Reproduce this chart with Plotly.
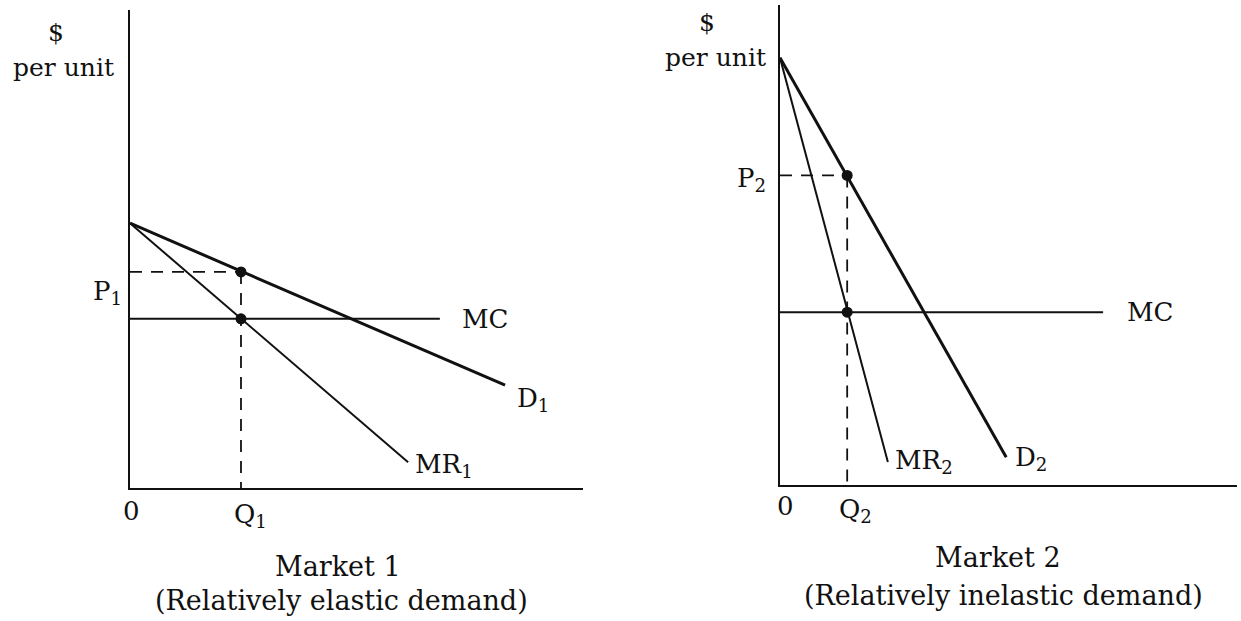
import plotly.graph_objects as go

W, H = 1241, 621

# ---- Market 1 (relatively elastic demand) ----
m1_demand_q = [0, 82.8]
m1_demand_p = [55.4, 21.5]
m1_mr_q = [0, 61.4]
m1_mr_p = [55.4, 5.4]
m1_mc_q = [0, 68.4]
m1_mc = 35.4
m1_q = 24.5
m1_p = 45.2

# ---- Market 2 (relatively inelastic demand) ----
m2_demand_q = [0, 49.5]
m2_demand_p = [89.0, 5.8]
m2_mr_q = [0, 23.6]
m2_mr_p = [89.0, 4.8]
m2_mc_q = [0, 70.7]
m2_mc = 36.0
m2_q = 14.7
m2_p = 64.5

FONT = "DejaVu Serif"
FS = 26
BLACK = "#111111"


def px(x, y):
    """Pixel position -> paper coordinates."""
    return x / W, 1 - y / H


fig = go.Figure()


def add_market(xa, ya, dq, dp, mq, mp, cq, mc, q, p):
    fig.add_trace(go.Scatter(x=dq, y=dp, xaxis=xa, yaxis=ya, mode="lines",
                             line=dict(color=BLACK, width=3), hoverinfo="skip"))
    fig.add_trace(go.Scatter(x=mq, y=mp, xaxis=xa, yaxis=ya, mode="lines",
                             line=dict(color=BLACK, width=2), hoverinfo="skip"))
    fig.add_trace(go.Scatter(x=cq, y=[mc, mc], xaxis=xa, yaxis=ya, mode="lines",
                             line=dict(color=BLACK, width=2), hoverinfo="skip"))
    # dashed guides to the axes
    fig.add_trace(go.Scatter(x=[0, q], y=[p, p], xaxis=xa, yaxis=ya, mode="lines",
                             line=dict(color=BLACK, width=1.8, dash="12px,9px"),
                             hoverinfo="skip"))
    fig.add_trace(go.Scatter(x=[q, q], y=[p, 0], xaxis=xa, yaxis=ya, mode="lines",
                             line=dict(color=BLACK, width=1.8, dash="12px,9px"),
                             hoverinfo="skip"))
    # price point on demand, MR = MC point
    fig.add_trace(go.Scatter(x=[q, q], y=[p, mc], xaxis=xa, yaxis=ya, mode="markers",
                             marker=dict(color=BLACK, size=11), hoverinfo="skip"))


add_market("x", "y", m1_demand_q, m1_demand_p, m1_mr_q, m1_mr_p,
           m1_mc_q, m1_mc, m1_q, m1_p)
add_market("x2", "y2", m2_demand_q, m2_demand_p, m2_mr_q, m2_mr_p,
           m2_mc_q, m2_mc, m2_q, m2_p)

ax_common = dict(showline=True, linecolor=BLACK, linewidth=2, showgrid=False,
                 zeroline=False, showticklabels=False, ticks="", fixedrange=True)

fig.update_layout(
    width=W, height=H,
    margin=dict(l=0, r=0, t=0, b=0),
    paper_bgcolor="white", plot_bgcolor="white",
    showlegend=False,
    font=dict(family=FONT, size=FS, color=BLACK),
    xaxis=dict(domain=[130 / W, 583 / W], range=[0, 100], anchor="y", **ax_common),
    yaxis=dict(domain=[1 - 488 / H, 1 - 10 / H], range=[0, 100], anchor="x", **ax_common),
    xaxis2=dict(domain=[780 / W, 1237 / W], range=[0, 100], anchor="y2", **ax_common),
    yaxis2=dict(domain=[1 - 485 / H, 1 - 5 / H], range=[0, 100], anchor="x2", **ax_common),
)

ann = []


def label(text, x, y, xref, yref, xanchor="center", yanchor="middle", size=FS):
    ann.append(dict(text=text, x=x, y=y, xref=xref, yref=yref, showarrow=False,
                    xanchor=xanchor, yanchor=yanchor,
                    font=dict(family=FONT, size=size, color=BLACK)))


def plabel(text, cx, cy, xanchor="center", size=FS):
    x, y = px(cx, cy)
    label(text, x, y, "paper", "paper", xanchor=xanchor, size=size)


# Market 1 curve labels
label("MC", 72.8, m1_mc, "x", "y", xanchor="left")
label("D<sub>1</sub>", 85.0, 18.5, "x", "y", xanchor="left")
label("MR<sub>1</sub>", 62.5, 4.8, "x", "y", xanchor="left")
# Market 2 curve labels
label("MC", 75.5, m2_mc, "x2", "y2", xanchor="left")
label("D<sub>2</sub>", 51.0, 5.6, "x2", "y2", xanchor="left")
label("MR<sub>2</sub>", 24.7, 4.8, "x2", "y2", xanchor="left")

# Axis point labels (sit outside the plotting areas)
plabel("P<sub>1</sub>", 124, 292, xanchor="right")
plabel("0", 131, 511)
plabel("Q<sub>1</sub>", 250, 515)
plabel("P<sub>2</sub>", 768, 180, xanchor="right")
plabel("0", 785, 506)
plabel("Q<sub>2</sub>", 855, 510)

# Axis captions and panel titles
plabel("$", 56, 32, size=25)
plabel("per unit", 63, 67, size=25)
plabel("$", 707, 22, size=25)
plabel("per unit", 715, 58, size=25)
plabel("Market 1", 338, 566, size=27)
plabel("(Relatively elastic demand)", 341, 600, size=27)
plabel("Market 2", 998, 557, size=27)
plabel("(Relatively inelastic demand)", 1003, 595, size=27)

fig.update_layout(annotations=ann)

fig.write_html("out.html")
